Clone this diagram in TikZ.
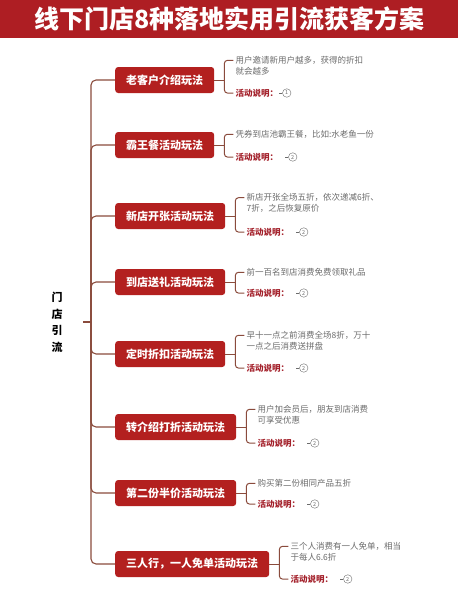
\documentclass[tikz,border=0pt]{standalone}
\usepackage{fontspec}
\setmainfont{Noto Sans CJK SC}
\usepackage{xcolor}
\usepackage{tikz}
\usetikzlibrary{positioning}

\definecolor{titlered}{HTML}{AE1E23}
\definecolor{boxred}{HTML}{B3201F}
\definecolor{branch}{HTML}{8A4B3C}
\definecolor{notered}{HTML}{A3202A}
\definecolor{descgray}{HTML}{6B6B6B}

\begin{document}
\begin{tikzpicture}[x=1pt, y=-1pt,
		topicbox/.style={fill=boxred, text=white, rounded corners=3pt, minimum height=26pt, inner xsep=11pt, anchor=west, font=\fontsize{11}{13}\selectfont\bfseries},
		desc/.style={text=descgray, align=left, inner sep=0pt, font=\fontsize{8.5}{11}\selectfont},
		note/.style={text=notered, inner sep=0pt, font=\fontsize{8.5}{11}\selectfont\bfseries},
		num/.style={circle, draw=descgray, text=descgray, minimum size=8.5pt, inner sep=0pt, font=\fontsize{5.5}{6}\selectfont},
		spine/.style={draw=branch, line width=1.1pt, rounded corners=5pt},
		brace/.style={draw=branch, line width=1pt, rounded corners=3pt}]
			\useasboundingbox (0,0) rectangle (458,600);

			\node[fill=titlered, text=white, minimum width=458pt, minimum height=38pt, inner sep=0pt, anchor=north west, font=\fontsize{25}{25}\selectfont\bfseries] (title) at (0,0) {线下门店8种落地实用引流获客方案};

			\node[align=center, minimum width=52pt, font=\fontsize{11}{16.5}\selectfont\bfseries] (root) at (57,322) {门\\店\\引\\流};
			\coordinate (hub) at (91,322);
			\draw[spine] (root) -- (hub);

			\node[topicbox] (b1) at (115,80) {老客户介绍玩法};
			\node[topicbox] (b2) at (115,145) {霸王餐活动玩法};
			\node[topicbox] (b3) at (115,216) {新店开张活动玩法};
			\node[topicbox] (b4) at (115,282) {到店送礼活动玩法};
			\node[topicbox] (b5) at (115,354) {定时折扣活动玩法};
			\node[topicbox] (b6) at (115,427) {转介绍打折活动玩法};
			\node[topicbox] (b7) at (115,493) {第二份半价活动玩法};
			\node[topicbox] (b8) at (115,564) {三人行，一人免单活动玩法};

			\draw[spine] (hub) |- (b1);
			\draw[spine] (hub) |- (b2);
			\draw[spine] (hub) |- (b3);
			\draw[spine] (hub) |- (b4);
			\draw[spine] (hub) |- (b5);
			\draw[spine] (hub) |- (b6);
			\draw[spine] (hub) |- (b7);
			\draw[spine] (hub) |- (b8);

			\coordinate[right=10pt of b1] (k1);
			\node[desc, right=11pt of k1, yshift=14.5pt] (d1) {用户邀请新用户越多，获得的折扣\\就会越多};
			\node[note, right=11pt of k1, yshift=-13pt] (n1) {活动说明：};
			\node[num, right=4pt of n1] (c1) {1};
			\draw[brace] (b1) -- (k1);
			\draw[brace] ([xshift=-2pt,yshift=-4.5pt]d1.north west) -| (k1) |- ([xshift=-2pt]n1.west);
			\draw[descgray] (c1.west) -- ([xshift=-3pt]c1.west);

			\coordinate[right=10pt of b2] (k2);
			\node[desc, right=11pt of k2, yshift=11pt] (d2) {凭券到店池霸王餐，比如:水老鱼一份};
			\node[note, right=11pt of k2, yshift=-12pt] (n2) {活动说明：};
			\node[num, right=10pt of n2] (c2) {2};
			\draw[brace] (b2) -- (k2);
			\draw[brace] ([xshift=-2pt,yshift=-4.5pt]d2.north west) -| (k2) |- ([xshift=-2pt]n2.west);
			\draw[descgray] (c2.west) -- ([xshift=-3pt]c2.west);

			\coordinate[right=10pt of b3] (k3);
			\node[desc, right=11pt of k3, yshift=13pt] (d3) {新店开张全场五折，依次递减6折、\\7折，之后恢复原价};
			\node[note, right=11pt of k3, yshift=-16pt] (n3) {活动说明：};
			\node[num, right=10pt of n3] (c3) {2};
			\draw[brace] (b3) -- (k3);
			\draw[brace] ([xshift=-2pt,yshift=-4.5pt]d3.north west) -| (k3) |- ([xshift=-2pt]n3.west);
			\draw[descgray] (c3.west) -- ([xshift=-3pt]c3.west);

			\coordinate[right=10pt of b4] (k4);
			\node[desc, right=11pt of k4, yshift=10pt] (d4) {前一百名到店消费免费领取礼品};
			\node[note, right=11pt of k4, yshift=-11pt] (n4) {活动说明：};
			\node[num, right=10pt of n4] (c4) {2};
			\draw[brace] (b4) -- (k4);
			\draw[brace] ([xshift=-2pt,yshift=-4.5pt]d4.north west) -| (k4) |- ([xshift=-2pt]n4.west);
			\draw[descgray] (c4.west) -- ([xshift=-3pt]c4.west);

			\coordinate[right=10pt of b5] (k5);
			\node[desc, right=11pt of k5, yshift=13.5pt] (d5) {早十一点之前消费全场8折，万十\\一点之后消费送拼盘};
			\node[note, right=11pt of k5, yshift=-14pt] (n5) {活动说明：};
			\node[num, right=10pt of n5] (c5) {2};
			\draw[brace] (b5) -- (k5);
			\draw[brace] ([xshift=-2pt,yshift=-4.5pt]d5.north west) -| (k5) |- ([xshift=-2pt]n5.west);
			\draw[descgray] (c5.west) -- ([xshift=-3pt]c5.west);

			\coordinate[right=10pt of b6] (k6);
			\node[desc, right=11pt of k6, yshift=12.5pt] (d6) {用户加会员后，朋友到店消费\\可享受优惠};
			\node[note, right=11pt of k6, yshift=-16pt] (n6) {活动说明：};
			\node[num, right=10pt of n6] (c6) {2};
			\draw[brace] (b6) -- (k6);
			\draw[brace] ([xshift=-2pt,yshift=-4.5pt]d6.north west) -| (k6) |- ([xshift=-2pt]n6.west);
			\draw[descgray] (c6.west) -- ([xshift=-3pt]c6.west);

			\coordinate[right=10pt of b7] (k7);
			\node[desc, right=11pt of k7, yshift=10pt] (d7) {购买第二份相同产品五折};
			\node[note, right=11pt of k7, yshift=-11pt] (n7) {活动说明：};
			\node[num, right=10pt of n7] (c7) {2};
			\draw[brace] (b7) -- (k7);
			\draw[brace] ([xshift=-2pt,yshift=-4.5pt]d7.north west) -| (k7) |- ([xshift=-2pt]n7.west);
			\draw[descgray] (c7.west) -- ([xshift=-3pt]c7.west);

			\coordinate[right=10pt of b8] (k8);
			\node[desc, right=11pt of k8, yshift=12.5pt] (d8) {三个人消费有一人免单，相当\\于每人6.6折};
			\node[note, right=11pt of k8, yshift=-15pt] (n8) {活动说明：};
			\node[num, right=10pt of n8] (c8) {2};
			\draw[brace] (b8) -- (k8);
			\draw[brace] ([xshift=-2pt,yshift=-4.5pt]d8.north west) -| (k8) |- ([xshift=-2pt]n8.west);
			\draw[descgray] (c8.west) -- ([xshift=-3pt]c8.west);
		\end{tikzpicture}
\end{document}
